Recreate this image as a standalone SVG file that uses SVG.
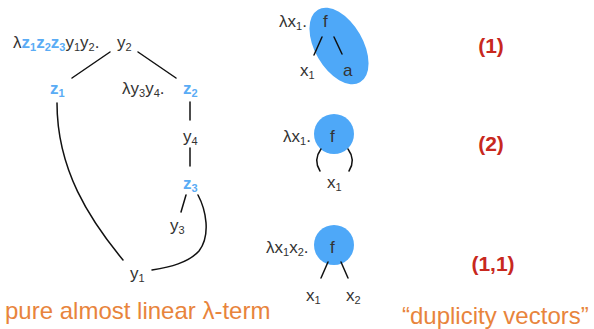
<svg xmlns="http://www.w3.org/2000/svg" width="594" height="329" viewBox="0 0 594 329">
<style>
.t{font-family:"Liberation Sans",Arial,sans-serif;font-size:17px;fill:#333}
.s{font-size:11px}
.z{font-family:"Liberation Sans",Arial,sans-serif;font-size:17px;font-weight:bold;fill:#5aacf5}
.dv{font-family:"Liberation Sans",Arial,sans-serif;font-size:21px;font-weight:bold;fill:#c8281e;text-anchor:middle}
.or{font-family:"Liberation Sans",Arial,sans-serif;font-size:24px;fill:#e8843c}
.e{stroke:#111;stroke-width:1.5;fill:none;stroke-linecap:round}
.b{fill:#4ea8f8}
</style>
<g id="connectors">
<line class="e" x1="110" y1="52" x2="72" y2="78"/>
<line class="e" x1="138" y1="52" x2="176" y2="78"/>
<path class="e" d="M57,103 C57,170 90,220 123,260"/>
<line class="e" x1="190" y1="102" x2="190" y2="120"/>
<line class="e" x1="190" y1="148" x2="190" y2="166"/>
<line class="e" x1="186" y1="195" x2="181" y2="212"/>
<path class="e" d="M198,195 C206,210 211,235 199,251 C188,263 170,267 152,270"/>
</g>
<g id="root">
<text class="t" x="13" y="48">λ<tspan class="z">z<tspan class="s" dy="3">1</tspan><tspan dy="-3">z</tspan><tspan class="s" dy="3">2</tspan><tspan dy="-3">z</tspan><tspan class="s" dy="3">3</tspan></tspan><tspan dy="-3">y</tspan><tspan class="s" dy="3">1</tspan><tspan dy="-3">y</tspan><tspan class="s" dy="3">2</tspan><tspan dy="-3">.</tspan></text>
<text class="t" x="117" y="48">y<tspan class="s" dy="3">2</tspan></text>
</g>
<g id="z1"><text class="z" x="50" y="94">z<tspan class="s" dy="3">1</tspan></text></g>
<g id="z2">
<text class="t" x="122" y="94">λy<tspan class="s" dy="3">3</tspan><tspan dy="-3">y</tspan><tspan class="s" dy="3">4</tspan><tspan dy="-3">.</tspan></text>
<text class="z" x="183" y="94">z<tspan class="s" dy="3">2</tspan></text>
</g>
<g id="y4"><text class="t" x="183" y="142">y<tspan class="s" dy="3">4</tspan></text></g>
<g id="z3"><text class="z" x="183" y="189">z<tspan class="s" dy="3">3</tspan></text></g>
<g id="y3"><text class="t" x="170" y="231">y<tspan class="s" dy="3">3</tspan></text></g>
<g id="y1"><text class="t" x="130" y="279">y<tspan class="s" dy="3">1</tspan></text></g>
<g id="caption-left"><text class="or" x="5" y="319">pure almost linear λ-term</text></g>

<g id="term1">
<ellipse class="b" cx="339" cy="46" rx="42" ry="24" transform="rotate(60 339 46)"/>
<text class="t" x="279" y="27">λx<tspan class="s" dy="3">1</tspan><tspan dy="-3">.</tspan></text>
<text class="t" x="323" y="27">f</text>
<line class="e" x1="322" y1="37" x2="314" y2="55"/>
<line class="e" x1="334" y1="37" x2="342" y2="54"/>
<text class="t" x="300" y="76">x<tspan class="s" dy="3">1</tspan></text>
<text class="t" x="343" y="76">a</text>
</g>
<g id="term2">
<circle class="b" cx="334" cy="134" r="20"/>
<text class="t" x="283" y="142">λx<tspan class="s" dy="3">1</tspan><tspan dy="-3">.</tspan></text>
<text class="t" x="330" y="142">f</text>
<path class="e" d="M321,149 Q313,160 320,171"/>
<path class="e" d="M348,149 Q356,160 349,171"/>
<text class="t" x="327" y="188">x<tspan class="s" dy="3">1</tspan></text>
</g>
<g id="term3">
<circle class="b" cx="334" cy="245" r="20"/>
<text class="t" x="266" y="253">λx<tspan class="s" dy="3">1</tspan><tspan dy="-3">x</tspan><tspan class="s" dy="3">2</tspan><tspan dy="-3">.</tspan></text>
<text class="t" x="330" y="253">f</text>
<line class="e" x1="328" y1="262" x2="321" y2="278"/>
<line class="e" x1="341" y1="262" x2="348" y2="278"/>
<text class="t" x="306" y="301">x<tspan class="s" dy="3">1</tspan></text>
<text class="t" x="346" y="301">x<tspan class="s" dy="3">2</tspan></text>
</g>
<g id="vectors">
<text class="dv" x="491" y="53">(1)</text>
<text class="dv" x="491" y="151">(2)</text>
<text class="dv" x="493" y="271">(1,1)</text>
<text class="or" x="402" y="324">“duplicity vectors”</text>
</g>
</svg>
